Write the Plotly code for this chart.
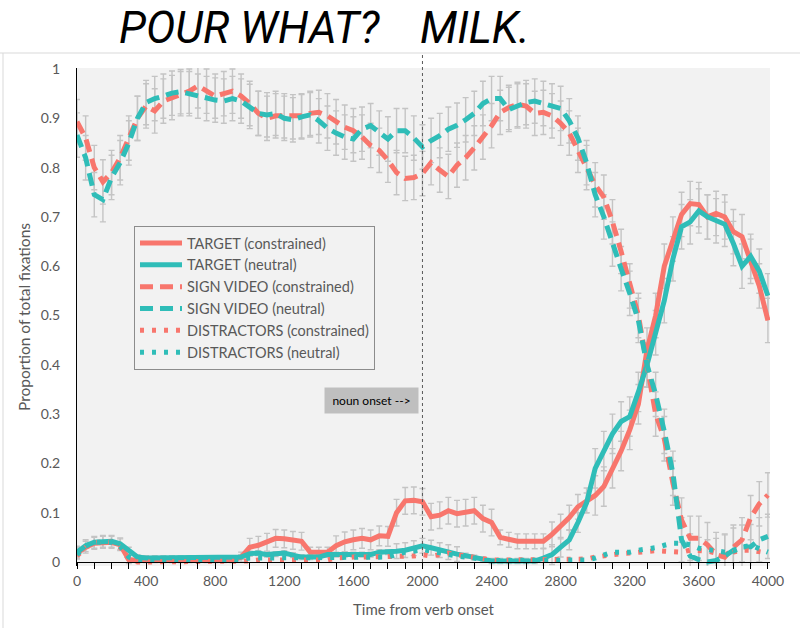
import plotly.graph_objects as go

# ---------------- data ----------------
time_ms = list(range(0, 4001, 50))

target_constrained = [
    0.018, 0.03, 0.038, 0.04, 0.04, 0.035, 0.005, 0.003, 0.003, 0.003,
    0.003, 0.003, 0.003, 0.003, 0.003, 0.003, 0.003, 0.003, 0.003, 0.01,
    0.03, 0.034, 0.04, 0.048, 0.047, 0.044, 0.042, 0.02, 0.02, 0.02,
    0.033, 0.041, 0.045, 0.048, 0.045, 0.053, 0.052, 0.10, 0.124, 0.125,
    0.122, 0.092, 0.095, 0.104, 0.098, 0.10, 0.104, 0.088, 0.08, 0.05,
    0.045, 0.042, 0.042, 0.042, 0.042, 0.056, 0.072, 0.09, 0.112, 0.125,
    0.135, 0.153, 0.19, 0.225, 0.268, 0.32, 0.43, 0.50, 0.60, 0.655,
    0.705, 0.727, 0.725, 0.70, 0.707, 0.70, 0.67, 0.66, 0.61, 0.56,
    0.49]

target_neutral = [
    0.02, 0.033, 0.04, 0.042, 0.042, 0.037, 0.022, 0.01, 0.008, 0.008,
    0.008, 0.008, 0.008, 0.008, 0.008, 0.008, 0.008, 0.008, 0.008, 0.01,
    0.017, 0.018, 0.015, 0.016, 0.018, 0.014, 0.01, 0.01, 0.01, 0.015,
    0.015, 0.015, 0.015, 0.015, 0.015, 0.02, 0.02, 0.022, 0.024, 0.028,
    0.033, 0.029, 0.024, 0.02, 0.016, 0.013, 0.009, 0.005, 0.002, 0.002,
    0.002, 0.002, 0.002, 0.002, 0.008, 0.015, 0.03, 0.045, 0.08, 0.12,
    0.19, 0.225, 0.26, 0.285, 0.295, 0.345, 0.40, 0.465, 0.53, 0.615,
    0.68, 0.69, 0.712, 0.70, 0.692, 0.685, 0.646, 0.60, 0.62, 0.59,
    0.54]

sign_constrained = [
    0.893, 0.86, 0.80, 0.771, 0.79, 0.82, 0.86, 0.90, 0.925, 0.915,
    0.935, 0.942, 0.95, 0.955, 0.966, 0.955, 0.945, 0.95, 0.955, 0.945,
    0.93, 0.91, 0.90, 0.905, 0.905, 0.903, 0.905, 0.91, 0.912, 0.905,
    0.893, 0.882, 0.875, 0.862, 0.845, 0.835, 0.815, 0.79, 0.778, 0.78,
    0.788, 0.81, 0.795, 0.782, 0.805, 0.82, 0.84, 0.862, 0.885, 0.912,
    0.922, 0.928, 0.925, 0.91, 0.912, 0.905, 0.89, 0.87, 0.835, 0.80,
    0.765, 0.74, 0.69, 0.63, 0.56, 0.50, 0.40, 0.30, 0.25, 0.16,
    0.085, 0.048, 0.048, 0.035, 0.015, 0.01, 0.03, 0.045, 0.09, 0.118,
    0.136]

sign_neutral = [
    0.866, 0.82, 0.745, 0.735, 0.78, 0.81, 0.85, 0.90, 0.932, 0.94,
    0.945, 0.951, 0.954, 0.95, 0.945, 0.94, 0.937, 0.935, 0.94, 0.935,
    0.924, 0.91, 0.907, 0.91, 0.90, 0.897, 0.903, 0.907, 0.895, 0.88,
    0.87, 0.862, 0.858, 0.878, 0.885, 0.87, 0.858, 0.875, 0.875, 0.86,
    0.842, 0.855, 0.865, 0.878, 0.886, 0.897, 0.91, 0.93, 0.94, 0.94,
    0.918, 0.925, 0.932, 0.935, 0.93, 0.925, 0.92, 0.895, 0.86, 0.81,
    0.745, 0.70, 0.645, 0.595, 0.545, 0.49, 0.40, 0.34, 0.265, 0.18,
    0.045, 0.012, 0.005, 0.0, 0.003, 0.012, 0.024, 0.03, 0.031, 0.045,
    0.052]

distractors_constrained = [
    0.012, 0.03, 0.038, 0.042, 0.04, 0.03, 0.005, 0.0, 0.0, 0.0,
    0.0, 0.0, 0.0, 0.0, 0.0, 0.0, 0.0, 0.0, 0.0, 0.0,
    0.002, 0.004, 0.004, 0.004, 0.004, 0.004, 0.004, 0.004, 0.004, 0.004,
    0.008, 0.01, 0.01, 0.01, 0.01, 0.012, 0.01, 0.01, 0.012, 0.012,
    0.015, 0.012, 0.015, 0.018, 0.015, 0.012, 0.008, 0.005, 0.004, 0.004,
    0.004, 0.004, 0.004, 0.004, 0.004, 0.004, 0.004, 0.004, 0.004, 0.006,
    0.01, 0.013, 0.015, 0.017, 0.018, 0.02, 0.02, 0.023, 0.022, 0.02,
    0.02, 0.024, 0.024, 0.022, 0.018, 0.014, 0.02, 0.024, 0.024, 0.02,
    0.018]

distractors_neutral = [
    0.015, 0.032, 0.04, 0.04, 0.04, 0.032, 0.01, 0.005, 0.005, 0.005,
    0.005, 0.005, 0.005, 0.005, 0.005, 0.005, 0.005, 0.005, 0.005, 0.005,
    0.008, 0.008, 0.008, 0.008, 0.008, 0.008, 0.008, 0.008, 0.008, 0.008,
    0.008, 0.01, 0.01, 0.01, 0.01, 0.01, 0.01, 0.015, 0.02, 0.022,
    0.025, 0.022, 0.018, 0.015, 0.012, 0.01, 0.008, 0.003, 0.003, 0.003,
    0.003, 0.003, 0.003, 0.003, 0.003, 0.003, 0.003, 0.003, 0.003, 0.004,
    0.008, 0.015, 0.02, 0.02, 0.02, 0.024, 0.026, 0.029, 0.034, 0.038,
    0.038, 0.035, 0.028, 0.025, 0.022, 0.02, 0.022, 0.03, 0.034, 0.026,
    0.02]

# standard errors
target_constrained_se = [
    0.012, 0.012, 0.012, 0.012, 0.012, 0.012, 0.008, 0.004, 0.004, 0.004,
    0.004, 0.004, 0.004, 0.004, 0.004, 0.004, 0.004, 0.004, 0.004, 0.01,
    0.018, 0.018, 0.018, 0.018, 0.018, 0.018, 0.018, 0.01, 0.01, 0.01,
    0.02, 0.02, 0.02, 0.02, 0.02, 0.02, 0.02, 0.027, 0.027, 0.027,
    0.027, 0.027, 0.027, 0.027, 0.027, 0.027, 0.027, 0.027, 0.027, 0.015,
    0.015, 0.015, 0.015, 0.015, 0.015, 0.025, 0.025, 0.025, 0.025, 0.025,
    0.04, 0.04, 0.04, 0.04, 0.04, 0.04, 0.045, 0.045, 0.045, 0.045,
    0.045, 0.045, 0.045, 0.045, 0.045, 0.045, 0.045, 0.045, 0.045, 0.045,
    0.045]

target_neutral_se = [
    0.012, 0.012, 0.012, 0.012, 0.012, 0.012, 0.008, 0.005, 0.005, 0.005,
    0.005, 0.005, 0.005, 0.005, 0.005, 0.005, 0.005, 0.005, 0.005, 0.005,
    0.005, 0.005, 0.005, 0.005, 0.005, 0.005, 0.005, 0.005, 0.005, 0.005,
    0.005, 0.005, 0.005, 0.005, 0.005, 0.005, 0.005, 0.015, 0.015, 0.015,
    0.015, 0.015, 0.015, 0.015, 0.015, 0.005, 0.005, 0.005, 0.005, 0.005,
    0.005, 0.005, 0.005, 0.005, 0.02, 0.02, 0.02, 0.02, 0.02, 0.02,
    0.04, 0.04, 0.04, 0.04, 0.04, 0.04, 0.045, 0.045, 0.045, 0.045,
    0.045, 0.045, 0.045, 0.045, 0.045, 0.045, 0.045, 0.045, 0.045, 0.045,
    0.045]

sign_se = 0.045

series_names = ["TARGET (constrained)", "TARGET (neutral)",
                "SIGN VIDEO (constrained)", "SIGN VIDEO (neutral)",
                "DISTRACTORS (constrained)", "DISTRACTORS (neutral)"]

x_ticks = list(range(0, 4001, 400))
y_ticks = [0, 0.1, 0.2, 0.3, 0.4, 0.5, 0.6, 0.7, 0.8, 0.9, 1]
y_tick_labels = ["0", "0.1", "0.2", "0.3", "0.4", "0.5", "0.6", "0.7", "0.8", "0.9", "1"]

RED = "#F8766D"
TEAL = "#2FBDB8"
ERR = "#C4C4C4"
FONT = "Lato, 'Open Sans', sans-serif"

fig = go.Figure()

# error bars (drawn first so they sit behind the lines)
def err_trace(y, arr):
    if isinstance(arr, list):
        ey = dict(type="data", array=arr, visible=True, color=ERR, thickness=1.4, width=3)
    else:
        ey = dict(type="constant", value=arr, visible=True, color=ERR, thickness=1.4, width=3)
    return go.Scatter(x=time_ms, y=y, mode="markers", marker=dict(size=1, opacity=0),
                      error_y=ey, showlegend=False, hoverinfo="skip")

fig.add_trace(err_trace(sign_constrained, sign_se))
fig.add_trace(err_trace(sign_neutral, sign_se))
fig.add_trace(err_trace(target_constrained, target_constrained_se))
fig.add_trace(err_trace(target_neutral, target_neutral_se))

styles = [
    (target_constrained, RED, "solid"),
    (target_neutral, TEAL, "solid"),
    (sign_constrained, RED, "13px,7px"),
    (sign_neutral, TEAL, "13px,7px"),
    (distractors_constrained, RED, "4px,8px"),
    (distractors_neutral, TEAL, "4px,8px"),
]
for name, (y, col, dash) in zip(series_names, styles):
    fig.add_trace(go.Scatter(x=time_ms, y=y, mode="lines", name=name,
                             line=dict(color=col, width=5, dash=dash)))

# layout geometry (pixels of the 800x628 page)
L, R, T, B = 77, 30, 68, 62
W, H = 800, 628
ph = H - T - B  # 498
y0_frac = (H - B - 562) / ph

def px_to_xpaper(px):
    return (px - L) / (W - L - R)

def px_to_ypaper(py):
    return (H - B - py) / ph

fig.update_layout(
    width=W, height=H,
    margin=dict(l=L, r=R, t=T, b=B, autoexpand=False),
    paper_bgcolor="white",
    plot_bgcolor="#F2F2F2",
    font=dict(family=FONT, color="#595959", size=13),
    showlegend=True,
    legend=dict(
        x=px_to_xpaper(134), y=px_to_ypaper(226), xanchor="left", yanchor="top",
        bgcolor="#F2F2F2", bordercolor="#8C8C8C", borderwidth=1,
        font=dict(family=FONT, size=14.5, color="#595959"),
        itemwidth=42,
    ),
    xaxis=dict(
        range=[0, 4012], tickmode="array", tickvals=x_ticks,
        ticktext=[str(v) for v in x_ticks],
        anchor="free", position=y0_frac, automargin=False,
        showline=True, linecolor="black", linewidth=1,
        ticks="outside", ticklen=6, tickcolor="black", tickwidth=1,
        minor=dict(dtick=100, ticks="outside", ticklen=6, tickcolor="black", tickwidth=1),
        showgrid=False, zeroline=False,
        tickfont=dict(size=14, color="#595959"),
        title=dict(text="Time from verb onset", font=dict(size=15, color="#595959"), standoff=16),
    ),
    yaxis=dict(
        range=[-4 / 493, 1 + 1 / 493], tickmode="array", tickvals=y_ticks,
        ticktext=y_tick_labels, automargin=False,
        showline=True, linecolor="black", linewidth=1,
        ticks="outside", ticklen=13, tickcolor="rgba(0,0,0,0)",
        showgrid=False, zeroline=False,
        tickfont=dict(size=14, color="#595959"),
        title=dict(text="Proportion of total fixations", font=dict(size=15.5, color="#595959"), standoff=6),
    ),
)

# chart border lines and noun-onset marker
fig.add_shape(type="line", xref="paper", yref="paper",
              x0=px_to_xpaper(0), x1=px_to_xpaper(800), y0=px_to_ypaper(53), y1=px_to_ypaper(53),
              line=dict(color="#D9D9D9", width=1))
fig.add_shape(type="line", xref="paper", yref="paper",
              x0=px_to_xpaper(3), x1=px_to_xpaper(3), y0=px_to_ypaper(53), y1=px_to_ypaper(628),
              line=dict(color="#D9D9D9", width=1))
fig.add_shape(type="line", xref="x", yref="paper",
              x0=2000, x1=2000, y0=y0_frac, y1=px_to_ypaper(54),
              line=dict(color="#595959", width=1, dash="dot"))

fig.add_annotation(x=1705, y=0.328, xref="x", yref="y", text="noun onset -->",
                   showarrow=False, bgcolor="#BFBFBF", width=89, height=21, borderpad=2,
                   font=dict(family=FONT, size=12, color="black"))

TITLE_FONT = dict(family="Roboto, 'Open Sans', sans-serif", size=44, color="black",
                  style="italic", weight=400)
fig.add_annotation(x=px_to_xpaper(117), y=px_to_ypaper(0), xref="paper", yref="paper",
                   xanchor="left", yanchor="top", text="POUR WHAT?", showarrow=False, font=TITLE_FONT)
fig.add_annotation(x=px_to_xpaper(418), y=px_to_ypaper(0), xref="paper", yref="paper",
                   xanchor="left", yanchor="top", text="MILK.", showarrow=False, font=TITLE_FONT)

fig.write_html("out.html", config={"displayModeBar": False},
               post_script="document.body.style.margin='0px';document.body.style.overflow='hidden';")
